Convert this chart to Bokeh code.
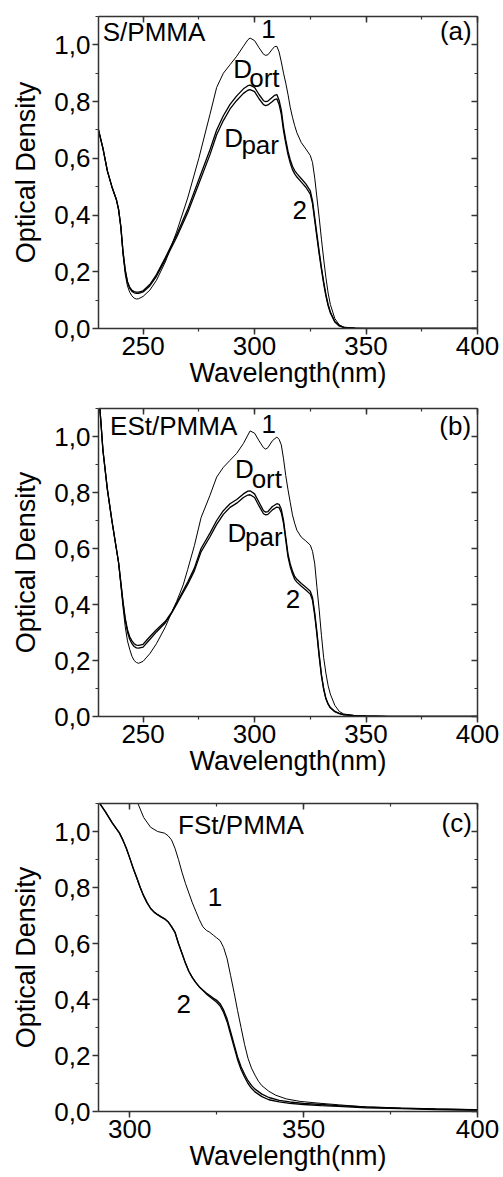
from bokeh.plotting import figure
from bokeh.models import (Range1d, LinearAxis, SingleIntervalTicker,
                          CustomJSTickFormatter, Label)
from bokeh.layouts import column
from bokeh.embed import file_html
from bokeh.resources import INLINE

FONT = "Liberation Sans"
FS_TICK = "26px"
FS_LABEL = "27px"
FS_TEXT = "26px"

# ---------------- data: panel (a) S/PMMA ----------------
wl_a = [230, 232, 234, 236, 238, 239, 240, 241, 242, 243, 244, 245, 246, 247, 248,
        250, 253, 256, 260, 265, 270, 275, 280, 283, 286, 289, 292, 295, 297, 298,
        300, 302, 304, 305, 306, 308, 309, 310, 311, 312, 313, 314, 315, 316, 317,
        318, 319, 321, 323, 325, 326, 327, 328, 329, 330, 331, 332, 333, 334, 336,
        338, 340, 345, 350, 400]
c1_a = [0.70, 0.635, 0.555, 0.50, 0.455, 0.42, 0.36, 0.26, 0.19, 0.15, 0.128, 0.115, 0.107, 0.104, 0.105,
        0.113, 0.135, 0.17, 0.235, 0.34, 0.46, 0.60, 0.755, 0.85, 0.90, 0.93, 0.96, 0.995, 1.018, 1.024,
        1.015, 0.99, 0.967, 0.963, 0.965, 0.985, 0.994, 0.995, 0.975, 0.94, 0.90, 0.865, 0.825, 0.78, 0.745,
        0.715, 0.69, 0.655, 0.633, 0.61, 0.585, 0.53, 0.46, 0.39, 0.315, 0.245, 0.18, 0.125, 0.085, 0.035,
        0.013, 0.005, 0.001, 0.0, 0.0]
dort_a = [0.70, 0.635, 0.555, 0.50, 0.455, 0.42, 0.36, 0.27, 0.205, 0.165, 0.145, 0.135, 0.13, 0.128, 0.128,
          0.133, 0.155, 0.19, 0.25, 0.33, 0.42, 0.525, 0.63, 0.70, 0.75, 0.79, 0.82, 0.845, 0.856, 0.858,
          0.85, 0.825, 0.803, 0.80, 0.802, 0.815, 0.822, 0.825, 0.805, 0.77, 0.71, 0.665, 0.625, 0.595, 0.572,
          0.557, 0.546, 0.528, 0.51, 0.485, 0.45, 0.39, 0.33, 0.27, 0.215, 0.165, 0.12, 0.085, 0.058, 0.025,
          0.01, 0.004, 0.001, 0.0, 0.0]
dpar_a = [0.70, 0.635, 0.555, 0.50, 0.455, 0.42, 0.36, 0.27, 0.205, 0.163, 0.142, 0.131, 0.126, 0.124, 0.124,
          0.129, 0.15, 0.184, 0.243, 0.321, 0.408, 0.51, 0.613, 0.683, 0.733, 0.774, 0.804, 0.829, 0.84, 0.842,
          0.835, 0.81, 0.789, 0.786, 0.788, 0.80, 0.807, 0.81, 0.79, 0.755, 0.697, 0.653, 0.613, 0.583, 0.56,
          0.545, 0.534, 0.516, 0.498, 0.474, 0.44, 0.38, 0.32, 0.262, 0.208, 0.158, 0.115, 0.08, 0.055, 0.023,
          0.009, 0.004, 0.001, 0.0, 0.0]

# ---------------- data: panel (b) ESt/PMMA ----------------
wl_b = [230, 231, 232, 234, 236, 238, 239, 240, 241, 242, 243, 244, 245, 246, 247, 248,
        250, 253, 256, 260, 263, 265, 268, 270, 273, 276, 280, 283, 286, 289, 292, 295, 297, 298,
        300, 302, 304, 305, 306, 308, 310, 311, 312, 313, 314, 315, 316, 317, 318, 319,
        321, 323, 325, 326, 327, 328, 329, 330, 331, 332, 333, 334, 336, 338, 340, 345, 350, 360, 400]
c1_b = [1.16, 1.06, 0.95, 0.81, 0.70, 0.60, 0.55, 0.47, 0.39, 0.32, 0.27, 0.24, 0.215, 0.20, 0.193, 0.19,
        0.197, 0.224, 0.26, 0.32, 0.375, 0.41, 0.47, 0.525, 0.61, 0.71, 0.79, 0.855, 0.89, 0.915, 0.94, 0.975, 1.005, 1.02,
        1.012, 0.985, 0.96, 0.955, 0.96, 0.985, 0.998, 0.99, 0.97, 0.92, 0.86, 0.81, 0.765, 0.72, 0.69, 0.665,
        0.64, 0.627, 0.612, 0.59, 0.545, 0.46, 0.38, 0.29, 0.21, 0.155, 0.11, 0.08, 0.04, 0.018, 0.009, 0.003, 0.001, 0.0, 0.0]
dort_b = [1.16, 1.06, 0.95, 0.81, 0.70, 0.60, 0.55, 0.48, 0.41, 0.35, 0.31, 0.285, 0.27, 0.26, 0.255, 0.254,
          0.258, 0.285, 0.31, 0.34, 0.375, 0.405, 0.45, 0.48, 0.53, 0.60, 0.655, 0.70, 0.735, 0.76, 0.775, 0.795, 0.805, 0.806,
          0.795, 0.765, 0.735, 0.73, 0.732, 0.75, 0.76, 0.758, 0.74, 0.70, 0.64, 0.58, 0.545, 0.52, 0.50, 0.49,
          0.475, 0.462, 0.447, 0.425, 0.37, 0.30, 0.22, 0.15, 0.10, 0.065, 0.045, 0.032, 0.018, 0.011, 0.007, 0.003, 0.002, 0.0005, 0.0]
dpar_b = [1.16, 1.06, 0.95, 0.81, 0.70, 0.60, 0.55, 0.48, 0.405, 0.345, 0.302, 0.276, 0.26, 0.25, 0.245, 0.244,
          0.248, 0.275, 0.302, 0.335, 0.372, 0.40, 0.443, 0.472, 0.52, 0.588, 0.642, 0.686, 0.722, 0.747, 0.762, 0.782, 0.791, 0.792,
          0.782, 0.752, 0.724, 0.72, 0.722, 0.738, 0.748, 0.746, 0.728, 0.69, 0.63, 0.57, 0.535, 0.51, 0.49, 0.48,
          0.465, 0.452, 0.437, 0.415, 0.36, 0.29, 0.213, 0.145, 0.097, 0.063, 0.044, 0.031, 0.017, 0.01, 0.006, 0.003, 0.002, 0.0005, 0.0]

# ---------------- data: panel (c) FSt/PMMA ----------------
wl_c1 = [300, 302, 304, 306, 308, 310, 311, 312, 313, 314, 315, 316, 317, 318, 319, 320, 321, 322,
         323, 324, 325, 326, 327, 328, 329, 330, 331, 332, 333, 334, 335, 336, 337, 338, 340, 342,
         345, 349, 355, 360, 368, 378, 388, 400]
c1_c = [1.18, 1.11, 1.05, 1.015, 1.0, 0.994, 0.985, 0.97, 0.94, 0.90, 0.855, 0.815, 0.78, 0.745, 0.715, 0.685, 0.66, 0.647,
        0.64, 0.63, 0.62, 0.61, 0.585, 0.545, 0.485, 0.425, 0.36, 0.30, 0.24, 0.19, 0.155, 0.13, 0.108, 0.092, 0.072, 0.058,
        0.045, 0.036, 0.029, 0.024, 0.016, 0.012, 0.009, 0.007]
wl_c2 = [290, 291, 293, 295, 297, 298, 299, 300, 301, 302, 303, 304, 305, 306, 307, 308, 309, 310,
         311, 312, 313, 314, 315, 316, 317, 318, 319, 320, 322, 324, 325, 326, 327, 328, 329, 330,
         331, 332, 333, 334, 335, 336, 338, 340, 343, 346, 350, 355, 360, 368, 378, 388, 400]
c2_c = [1.12, 1.107, 1.07, 1.03, 0.995, 0.97, 0.94, 0.905, 0.868, 0.835, 0.80, 0.77, 0.745, 0.725, 0.712, 0.703, 0.695, 0.688,
        0.678, 0.66, 0.64, 0.60, 0.565, 0.53, 0.50, 0.478, 0.46, 0.445, 0.423, 0.405, 0.397, 0.385, 0.362, 0.33, 0.285, 0.24,
        0.195, 0.16, 0.133, 0.11, 0.093, 0.08, 0.062, 0.05, 0.04, 0.034, 0.029, 0.025, 0.021, 0.016, 0.012, 0.009, 0.006]
c3_c = [1.12, 1.107, 1.07, 1.03, 0.995, 0.97, 0.94, 0.905, 0.868, 0.835, 0.80, 0.77, 0.745, 0.725, 0.712, 0.703, 0.695, 0.688,
        0.678, 0.66, 0.64, 0.60, 0.565, 0.53, 0.50, 0.478, 0.46, 0.445, 0.42, 0.40, 0.39, 0.377, 0.353, 0.32, 0.275, 0.23,
        0.185, 0.15, 0.123, 0.10, 0.083, 0.07, 0.053, 0.042, 0.034, 0.029, 0.025, 0.021, 0.018, 0.013, 0.01, 0.007, 0.004]

x_label = "Wavelength(nm)"
y_label = "Optical Density"

AX_COLOR = "#333333"


def style_axis(ax, outer=True):
    ax.axis_line_color = AX_COLOR
    ax.axis_line_width = 1.5
    ax.major_tick_line_color = AX_COLOR
    ax.major_tick_line_width = 1.5
    ax.minor_tick_line_color = AX_COLOR
    ax.minor_tick_line_width = 1.2
    if outer:
        ax.major_tick_out = 6
        ax.major_tick_in = 0
        ax.minor_tick_out = 3
        ax.minor_tick_in = 0
        ax.major_label_text_font = FONT
        ax.major_label_text_font_size = FS_TICK
        ax.major_label_text_color = "black"
        ax.major_label_standoff = 2
        ax.axis_label_text_font = FONT
        ax.axis_label_text_font_size = FS_LABEL
        ax.axis_label_text_font_style = "normal"
        ax.axis_label_text_color = "black"
    else:
        ax.major_tick_out = 0
        ax.major_tick_in = 6
        ax.minor_tick_out = 0
        ax.minor_tick_in = 3
        ax.major_label_text_font_size = "0px"
        ax.major_label_standoff = 0
        ax.formatter = CustomJSTickFormatter(code="return '';")


def make_panel(height, bl, br, btop, bbottom, xr, curves, labels):
    p = figure(width=503, height=height, output_backend="svg", toolbar_location=None,
               x_range=Range1d(*xr), y_range=Range1d(0, 1.1),
               min_border_left=bl, min_border_right=br, min_border_top=btop,
               min_border_bottom=bbottom, x_axis_label=x_label, y_axis_label=y_label)
    p.xgrid.visible = False
    p.ygrid.visible = False
    p.outline_line_color = None
    p.background_fill_color = "white"
    p.border_fill_color = "white"

    p.xaxis.ticker = SingleIntervalTicker(interval=50, num_minor_ticks=2)
    p.yaxis.ticker = SingleIntervalTicker(interval=0.2, num_minor_ticks=2)
    p.yaxis.formatter = CustomJSTickFormatter(code="return tick.toFixed(1).replace('.', ',');")
    for ax in p.xaxis + p.yaxis:
        style_axis(ax, True)
    p.yaxis.axis_label_standoff = 10
    p.xaxis.axis_label_standoff = 0

    top = LinearAxis(ticker=SingleIntervalTicker(interval=50, num_minor_ticks=2))
    right = LinearAxis(ticker=SingleIntervalTicker(interval=0.2, num_minor_ticks=2))
    style_axis(top, False)
    style_axis(right, False)
    p.add_layout(top, "above")
    p.add_layout(right, "right")

    for xs, ys, lw in curves:
        p.line(xs, ys, line_color="black", line_width=lw)

    for (x, y, txt, align) in labels:
        p.add_layout(Label(x=x, y=y, text=txt, text_align=align, text_baseline="alphabetic",
                           y_offset=9, text_font=FONT, text_font_size=FS_TEXT,
                           text_color="black"))
    return p


pa = make_panel(390, 96, 25, 16, 62, (230, 400),
                [(wl_a, c1_a, 1.0), (wl_a, dort_a, 1.3), (wl_a, dpar_a, 1.3)],
                [(231.9, 1.012, "S/PMMA", "left"), (303, 1.024, "1", "left"),
                 (397.4, 1.018, "(a)", "right"),
                 (290.4, 0.8825, "D", "left"), (297.6, 0.851, "ort", "left"),
                 (286.4, 0.641, "D", "left"), (294.1, 0.615, "par", "left"),
                 (317, 0.387, "2", "left")])

pb = make_panel(390, 98, 26, 18, 64, (230, 400),
                [(wl_b, c1_b, 1.0), (wl_b, dort_b, 1.3), (wl_b, dpar_b, 1.3)],
                [(235.2, 1.006, "ESt/PMMA", "left"), (303.1, 1.012, "1", "left"),
                 (397.1, 1.006, "(b)", "right"),
                 (291.2, 0.851, "D", "left"), (298.7, 0.815, "ort", "left"),
                 (287.9, 0.624, "D", "left"), (295.7, 0.609, "par", "left"),
                 (314, 0.386, "2", "left")])

pc = make_panel(396, 97, 26, 23, 65, (291, 400),
                [(wl_c1, c1_c, 1.0), (wl_c2, c2_c, 1.3), (wl_c2, c3_c, 1.3)],
                [(313.9, 0.99, "FSt/PMMA", "left"), (322.4, 0.733, "1", "left"),
                 (313.4, 0.353, "2", "left"), (398.4, 1.0, "(c)", "right")])

layout = column(pa, pb, pc)
open("out.html", "w").write(file_html(layout, INLINE))
